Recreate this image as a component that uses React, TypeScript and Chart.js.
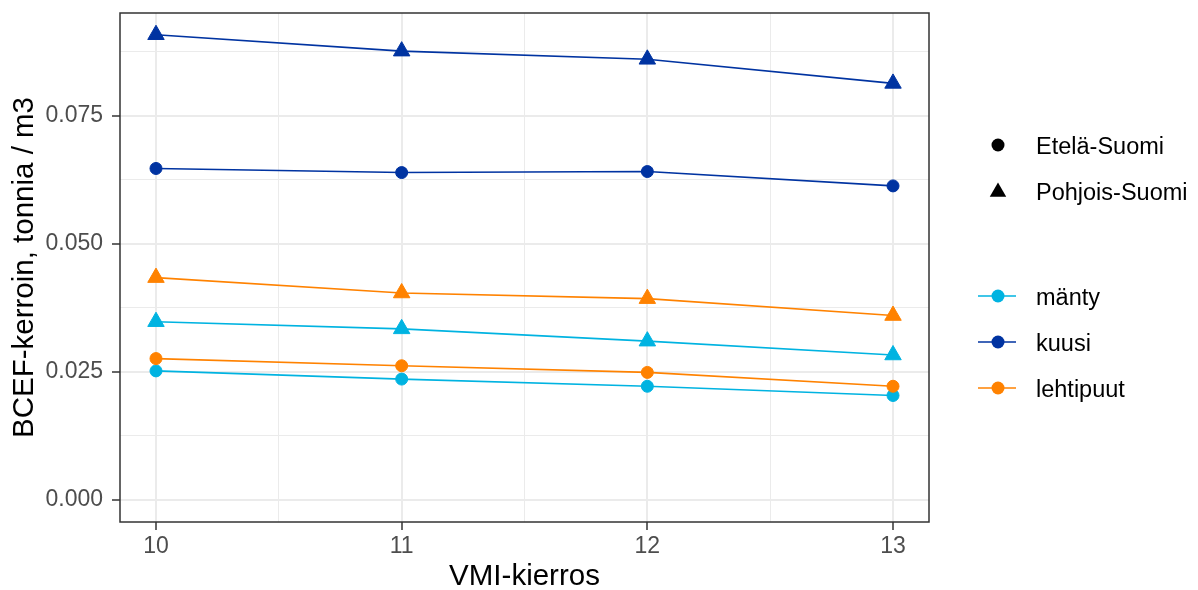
import React, { useEffect, useRef } from "react";
import { Chart, registerables } from "chart.js";

Chart.register(...registerables);

// ---- Data ----
const rounds = [10, 11, 12, 13];
const mantyEtela = [0.0252, 0.0236, 0.0222, 0.0204];
const mantyPohjois = [0.0348, 0.0334, 0.031, 0.0283];
const kuusiEtela = [0.0647, 0.0639, 0.0641, 0.0613];
const kuusiPohjois = [0.0908, 0.0876, 0.086, 0.0813];
const lehtiEtela = [0.0276, 0.0262, 0.0249, 0.0222];
const lehtiPohjois = [0.0434, 0.0404, 0.0393, 0.036];

const speciesNames = ["mänty", "kuusi", "lehtipuut"];
const regionNames = ["Etelä-Suomi", "Pohjois-Suomi"];
const xMajorTicks = [10, 11, 12, 13];
const xMinorTicks = [10.5, 11.5, 12.5];
const yMajorTicks = [0, 0.025, 0.05, 0.075];
const yMinorTicks = [0.0125, 0.0375, 0.0625, 0.0875];
const xTitle = "VMI-kierros";
const yTitle = "BCEF-kerroin, tonnia / m3";

const COLORS: Record<string, string> = {
  "mänty": "#00B3E1",
  "kuusi": "#0033A1",
  "lehtipuut": "#FF8200",
};

const FONT = "'Liberation Sans', Arial, sans-serif";
const TICK_SIZE = 23;
const TITLE_SIZE = 29.5;
const LEGEND_SIZE = 23.5;

const isMajor = (v: number, list: number[]) => list.some((m) => Math.abs(m - v) < 1e-9);

function makeSet(species: string, region: string, values: number[]) {
  const tri = region === regionNames[1];
  const c = COLORS[species];
  return {
    label: `${species} ${region}`,
    data: rounds.map((r, i) => ({ x: r, y: values[i] })),
    borderColor: c,
    backgroundColor: c,
    borderWidth: 1.6,
    pointStyle: tri ? "triangle" : "circle",
    pointRadius: tri ? 9.5 : 6,
    pointBorderWidth: 1,
    pointBackgroundColor: c,
    pointBorderColor: c,
    tension: 0,
  };
}

const decorPlugin = {
  id: "decor",
  afterDatasetsDraw(chart: any) {
    const { ctx, chartArea: a } = chart;
    ctx.save();
    ctx.strokeStyle = "#333333";
    ctx.lineWidth = 1.5;
    ctx.strokeRect(a.left, a.top, a.right - a.left, a.bottom - a.top);
    ctx.restore();
  },
  afterDraw(chart: any) {
    const { ctx, chartArea: a } = chart;
    ctx.save();
    // axis titles
    ctx.fillStyle = "#000000";
    ctx.font = `${TITLE_SIZE}px ${FONT}`;
    ctx.textAlign = "center";
    ctx.textBaseline = "alphabetic";
    ctx.fillText(xTitle, (a.left + a.right) / 2, 585);
    ctx.save();
    ctx.translate(33, (a.top + a.bottom) / 2);
    ctx.rotate(-Math.PI / 2);
    ctx.fillText(yTitle, 0, 0);
    ctx.restore();

    // legend: shapes
    ctx.font = `${LEGEND_SIZE}px ${FONT}`;
    ctx.textAlign = "left";
    const mx = 998;
    const tx = 1036;
    ctx.fillStyle = "#000000";
    ctx.beginPath();
    ctx.arc(mx, 145, 6.5, 0, Math.PI * 2);
    ctx.fill();
    ctx.fillText(regionNames[0], tx, 153.5);
    const r = 9.5;
    const ty = 192;
    ctx.beginPath();
    ctx.moveTo(mx, ty - r);
    ctx.lineTo(mx + r * Math.sin(Math.PI / 3 * 2), ty + r * 0.5);
    ctx.lineTo(mx - r * Math.sin(Math.PI / 3 * 2), ty + r * 0.5);
    ctx.closePath();
    ctx.fill();
    ctx.fillText(regionNames[1], tx, 200);

    // legend: species
    const ys = [296, 342, 388];
    speciesNames.forEach((s, i) => {
      const c = COLORS[s];
      const y = ys[i];
      ctx.strokeStyle = c;
      ctx.lineWidth = 1.6;
      ctx.beginPath();
      ctx.moveTo(978, y);
      ctx.lineTo(1016, y);
      ctx.stroke();
      ctx.fillStyle = c;
      ctx.beginPath();
      ctx.arc(mx, y, 6.5, 0, Math.PI * 2);
      ctx.fill();
      ctx.fillStyle = "#000000";
      ctx.fillText(s, tx, y + 9);
    });
    ctx.restore();
  },
};

export default function App() {
  const ref = useRef<HTMLCanvasElement | null>(null);
  useEffect(() => {
    document.body.style.margin = "0";
    const canvas = ref.current;
    if (!canvas) return;
    const datasets = [
      makeSet("lehtipuut", regionNames[0], lehtiEtela),
      makeSet("lehtipuut", regionNames[1], lehtiPohjois),
      makeSet("kuusi", regionNames[0], kuusiEtela),
      makeSet("kuusi", regionNames[1], kuusiPohjois),
      makeSet("mänty", regionNames[0], mantyEtela),
      makeSet("mänty", regionNames[1], mantyPohjois),
    ];
    const chart = new Chart(canvas, {
      type: "line",
      data: { datasets: datasets as any },
      plugins: [decorPlugin],
      options: {
        responsive: false,
        animation: false,
        devicePixelRatio: 1,
        layout: { padding: { top: 13, right: 269, left: 0, bottom: 0 } },
        plugins: { legend: { display: false }, tooltip: { enabled: false } },
        scales: {
          x: {
            type: "linear",
            min: 9.8535,
            max: 13.1465,
            afterBuildTicks: (s: any) => {
              s.ticks = [...xMajorTicks, ...xMinorTicks].sort((p, q) => p - q).map((v) => ({ value: v }));
            },
            afterFit: (s: any) => {
              s.height = 68;
              s.paddingLeft = 0;
              s.paddingRight = 0;
              s.paddingTop = 0;
              s.paddingBottom = 0;
            },
            border: { display: false },
            grid: {
              color: "#EBEBEB",
              lineWidth: (c: any) => (c.tick && isMajor(c.tick.value, xMajorTicks) ? 2 : 1),
              tickColor: (c: any) => (c.tick && isMajor(c.tick.value, xMajorTicks) ? "#333333" : "rgba(0,0,0,0)"),
              tickLength: 8,
              tickWidth: 1.5,
            },
            ticks: {
              autoSkip: false,
              maxRotation: 0,
              padding: 3,
              color: "#4D4D4D",
              font: { family: FONT, size: TICK_SIZE },
              callback: (v: any) => (isMajor(Number(v), xMajorTicks) ? String(v) : ""),
            },
          },
          y: {
            type: "linear",
            min: -0.00429,
            max: 0.09504,
            afterBuildTicks: (s: any) => {
              s.ticks = [...yMajorTicks, ...yMinorTicks].sort((p, q) => p - q).map((v) => ({ value: v }));
            },
            afterFit: (s: any) => {
              s.width = 120;
              s.paddingLeft = 0;
              s.paddingRight = 0;
              s.paddingTop = 0;
              s.paddingBottom = 0;
            },
            border: { display: false },
            grid: {
              color: "#EBEBEB",
              lineWidth: (c: any) => (c.tick && isMajor(c.tick.value, yMajorTicks) ? 2 : 1),
              tickColor: (c: any) => (c.tick && isMajor(c.tick.value, yMajorTicks) ? "#333333" : "rgba(0,0,0,0)"),
              tickLength: 8,
              tickWidth: 1.5,
            },
            ticks: {
              autoSkip: false,
              padding: 9,
              color: "#4D4D4D",
              font: { family: FONT, size: TICK_SIZE },
              callback: (v: any) => (isMajor(Number(v), yMajorTicks) ? Number(v).toFixed(3) : ""),
            },
          },
        },
      } as any,
    });
    return () => chart.destroy();
  }, []);
  return (
    <div style={{ position: "fixed", left: 0, top: 0, width: 1198, height: 590, background: "#fff" }}>
      <canvas ref={ref} width={1198} height={590} style={{ display: "block", width: 1198, height: 590 }} />
    </div>
  );
}
